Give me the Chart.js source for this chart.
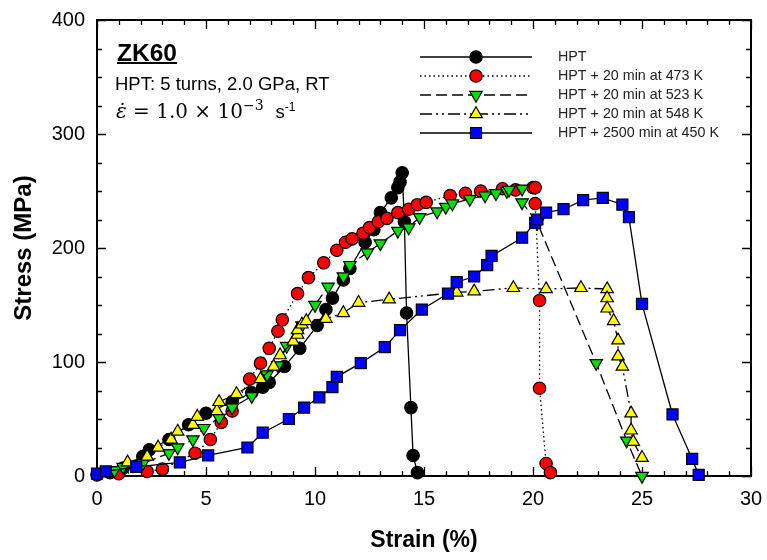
<!DOCTYPE html>
<html><head><meta charset="utf-8">
<script src="https://cdn.jsdelivr.net/npm/chart.js@4/dist/chart.umd.min.js"></script>
<style>
html,body{margin:0;padding:0;background:#fff;}
#wrap{position:relative;width:767px;height:560px;overflow:hidden;}
#c{position:absolute;left:0;top:0;}
.ann{position:absolute;white-space:nowrap;color:#000;line-height:1;}
</style></head><body>
<div id="wrap">
<canvas id="c" width="767" height="560"></canvas>
<div class="ann" style="left:117px;top:39px;font:bold 24.5px 'Liberation Sans',Arial,sans-serif;text-decoration:underline;text-decoration-thickness:2px;">ZK60</div>
<div class="ann" style="left:115px;top:73px;font:18.5px 'Liberation Sans',Arial,sans-serif;">HPT: 5 turns, 2.0 GPa, RT</div>
<div class="ann" style="left:116px;top:97px;font:20px 'DejaVu Serif',serif;"><span style="font-style:italic">ε̇</span> = 1.0 × 10<sup style="font-size:14px;vertical-align:8px">−3</sup><span style="font:18.5px 'Liberation Sans',Arial,sans-serif;margin-left:12px;">s<sup style="font-size:12px;vertical-align:7px">-1</sup></span></div>
</div>
<script>
// ---- data (strain %, stress MPa) ----
const seriesLabels = ["HPT", "HPT + 20 min at 473 K", "HPT + 20 min at 523 K", "HPT + 20 min at 548 K", "HPT + 2500 min at 450 K"];

const hptStrain = [0,0.6,1.2,2.1,2.4,3.3,4.2,5.0,6.2,7.1,7.6,7.9,8.6,9.3,10.1,10.5,10.8,11.3,11.6,12.3,12.7,13.0,13.5,13.8,13.9,14.0,14.1,14.2,14.4,14.5,14.7];
const hptStress = [1,3,7,17,23,32,45,55,65,73,78,82,96,112,132,146,156,172,182,205,216,231,244,253,258,266,223,143,60,18,3];

const k473Strain = [1.0,2.3,3.0,4.5,5.2,5.7,6.2,7.0,7.5,7.9,8.3,8.5,9.2,9.7,10.4,11.0,11.4,11.7,12.2,12.5,12.9,13.3,13.8,14.3,14.7,15.1,16.2,16.9,17.6,18.6,19.2,20.0,20.1,20.1,20.3,20.3,20.6,20.8];
const k473Stress = [2,4,6,20,32,47,57,85,99,112,127,137,160,174,187,198,205,208,213,218,223,226,231,234,238,240,246,248,250,252,251,253,253,239,154,77,11,3];

const k523Strain = [0.8,1.2,2.1,3.3,3.7,4.4,4.9,5.6,6.2,7.1,7.8,8.3,8.7,9.4,10.0,10.6,11.3,11.6,12.4,13.0,13.8,14.3,14.8,15.6,16.0,16.3,17.1,17.8,18.3,18.8,18.9,19.5,19.5,20.2,22.9,24.3,25.0];
const k523Stress = [5,8,11,20,25,32,42,51,60,70,89,97,114,132,150,166,175,185,196,204,215,218,227,232,236,239,243,246,248,250,251,252,240,222,99,31,0];

const k548Strain = [1.4,2.3,2.8,3.4,3.7,4.4,4.6,5.5,5.6,6.4,7.5,8.1,8.4,9.0,9.2,9.2,9.4,9.6,10.5,11.3,12.0,13.4,16.5,17.3,19.1,20.6,22.2,23.4,23.4,23.4,23.7,23.9,23.9,24.1,24.5,24.5,24.6,25.0];
const k548Stress = [12,17,25,32,39,45,52,57,65,72,85,96,106,118,124,128,133,136,138,143,152,155,161,162,165,164,165,164,156,147,136,119,105,96,55,40,30,16];

const k450Strain = [0,0.4,1.8,3.8,5.1,6.9,7.6,8.8,9.5,10.2,10.8,11.0,12.1,13.2,13.9,14.9,16.1,16.5,17.3,17.9,18.1,19.5,20.1,20.2,20.6,21.4,22.3,23.2,24.1,24.4,25.0,26.4,27.3,27.6];
const k450Stress = [2,4,8,12,18,25,38,50,60,69,78,87,99,113,128,146,160,170,175,185,193,209,222,225,231,234,242,244,238,227,151,54,15,1];

const xTicks = [0,5,10,15,20,25,30];
const yTicks = [0,100,200,300,400];

// ---- styles ----
const styles = [
  {fill:'#000000', shape:'circle',   rot:0,   dash:[],              r:6.2},
  {fill:'#ff0000', shape:'circle',   rot:0,   dash:[1.5,3],         r:6.2},
  {fill:'#00e000', shape:'triangle', rot:180, dash:[11,5],          r:7.2},
  {fill:'#ffff00', shape:'triangle', rot:0,   dash:[12,4,2,4,2,4],  r:7.2},
  {fill:'#0000ff', shape:'rect',     rot:0,   dash:[],              r:7.8}
];
const xs = [hptStrain,k473Strain,k523Strain,k548Strain,k450Strain];
const ys = [hptStress,k473Stress,k523Stress,k548Stress,k450Stress];

const datasets = seriesLabels.map((lab,i)=>({
  label: lab,
  data: xs[i].map((x,j)=>({x:x, y:ys[i][j]})),
  showLine: true,
  borderColor: '#000',
  borderWidth: 1.3,
  borderDash: styles[i].dash,
  backgroundColor: styles[i].fill,
  pointBackgroundColor: styles[i].fill,
  pointBorderColor: '#000',
  pointBorderWidth: 1.2,
  pointStyle: styles[i].shape,
  pointRotation: styles[i].rot,
  pointRadius: styles[i].r,
  tension: 0,
  clip: false,
  order: 5 - i
}));

function drawMarker(ctx, st, x, y){
  if (Chart.helpers && Chart.helpers.drawPoint){
    ctx.save();
    ctx.fillStyle = st.fill; ctx.strokeStyle='#000'; ctx.lineWidth=1.2; ctx.setLineDash([]);
    Chart.helpers.drawPoint(ctx, {pointStyle: st.shape, rotation: st.rot, radius: st.r, borderWidth:1.2}, x, y);
    ctx.restore();
  }
}

const framePlugin = {
  id: 'frameTicks',
  beforeDatasetsDraw(chart){
    const {ctx, chartArea:a, scales:{x,y}} = chart;
    ctx.save();
    ctx.strokeStyle = '#000';
    ctx.lineWidth = 1.3;
    ctx.beginPath();
    for (let v = 0; v <= 30; v += 1){
      const px = Math.round(x.getPixelForValue(v)) + 0.5;
      const L = (v % 5 === 0) ? 9 : 5;
      ctx.moveTo(px, a.bottom); ctx.lineTo(px, a.bottom - L);
      ctx.moveTo(px, a.top); ctx.lineTo(px, a.top + L);
    }
    for (let v = 0; v <= 400; v += 25){
      const py = Math.round(y.getPixelForValue(v)) + 0.5;
      const L = (v % 100 === 0) ? 9 : 5;
      ctx.moveTo(a.left, py); ctx.lineTo(a.left + L, py);
      ctx.moveTo(a.right, py); ctx.lineTo(a.right - L, py);
    }
    ctx.stroke();
    ctx.lineWidth = 2;
    ctx.strokeRect(a.left, a.top, a.right - a.left, a.bottom - a.top);
    ctx.restore();
  },
  afterDatasetsDraw(chart){
    const ctx = chart.ctx;
    const x1 = 420, x2 = 532, xm = 476, xt = 558, y0 = 57, dy = 19;
    seriesLabels.forEach((lab,i)=>{
      const yy = y0 + i*dy;
      ctx.save();
      ctx.strokeStyle = '#000'; ctx.lineWidth = 1.3;
      ctx.setLineDash(styles[i].dash);
      ctx.beginPath(); ctx.moveTo(x1, yy); ctx.lineTo(x2, yy); ctx.stroke();
      ctx.restore();
      drawMarker(ctx, styles[i], xm, yy);
      ctx.save();
      ctx.fillStyle = '#222';
      ctx.font = "14.3px 'Liberation Sans', Arial, sans-serif";
      ctx.textBaseline = 'middle';
      ctx.fillText(lab, xt, yy);
      ctx.restore();
    });
  }
};

new Chart(document.getElementById('c'), {
  type: 'scatter',
  data: { datasets },
  plugins: [framePlugin],
  options: {
    responsive: false,
    animation: false,
    devicePixelRatio: 1,
    layout: { padding: { left: 0, right: 16, top: 20, bottom: 0 } },
    plugins: { legend: { display: false }, tooltip: { enabled: false } },
    scales: {
      x: {
        type: 'linear', min: 0, max: 30,
        afterBuildTicks: s => { s.ticks = xTicks.map(v => ({value: v})); },
        afterFit: s => { s.height = 84; s.paddingLeft = 0; s.paddingRight = 0; },
        grid: { display: false, drawTicks: false },
        border: { display: false },
        ticks: { color: '#000', padding: 11, font: { family: "'Liberation Sans', Arial, sans-serif", size: 20 } },
        title: { display: true, text: 'Strain (%)', color: '#000', padding: { top: 0, bottom: 6 },
                 font: { family: "'Liberation Sans', Arial, sans-serif", size: 23, weight: 'bold' } }
      },
      y: {
        type: 'linear', min: 0, max: 400,
        afterBuildTicks: s => { s.ticks = yTicks.map(v => ({value: v})); },
        afterFit: s => { s.width = 97; s.paddingTop = 0; s.paddingBottom = 0; },
        grid: { display: false, drawTicks: false },
        border: { display: false },
        ticks: { color: '#000', padding: 12, font: { family: "'Liberation Sans', Arial, sans-serif", size: 20 } },
        title: { display: true, text: 'Stress (MPa)', color: '#000', padding: { top: 10, bottom: 0 },
                 font: { family: "'Liberation Sans', Arial, sans-serif", size: 24, weight: 'bold' } }
      }
    }
  }
});
</script>
</body></html>
